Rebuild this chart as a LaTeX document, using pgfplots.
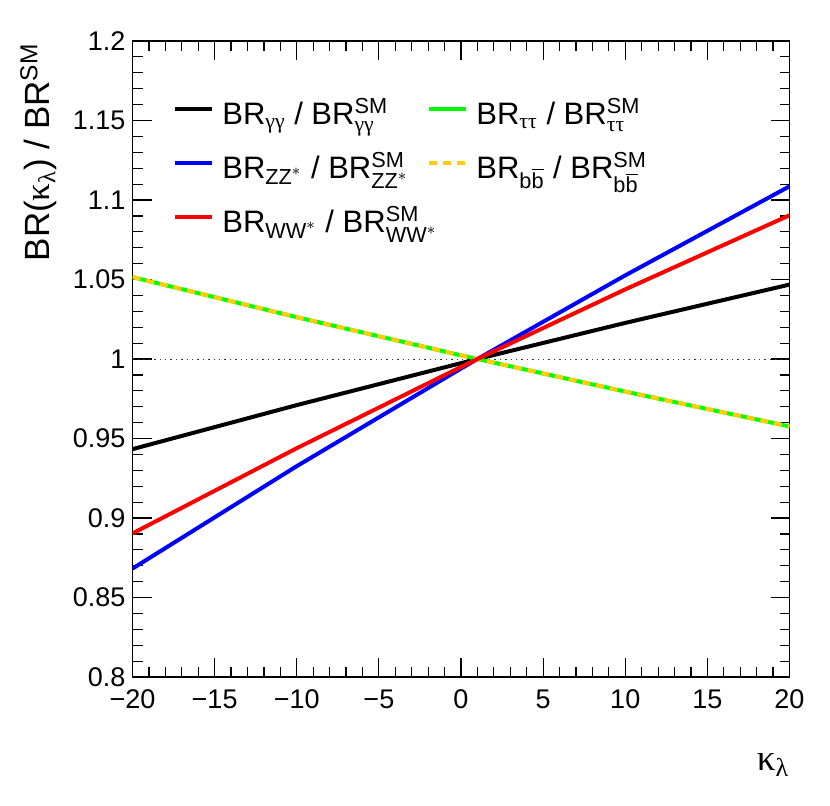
\documentclass[border=0pt]{standalone}
\usepackage{amsmath}
\usepackage{fontspec}
\setmainfont{Liberation Sans}
\newfontfamily\grk{Liberation Serif}
\usepackage{pgfplots}
\pgfplotsset{compat=1.18}

\definecolor{rgreen}{RGB}{0,255,0}
\definecolor{ryellow}{RGB}{255,204,0}

% legend text of the left column gets a fixed width so the right column sits where ROOT put it
\newcommand{\lcol}[1]{\makebox[102.5bp][l]{#1}}

\begin{document}
\begin{tikzpicture}
\begin{axis}[
    scale only axis,
    width=328.5bp, height=318bp,
    xmin=-20, xmax=20,
    ymin=0.8, ymax=1.2,
    xtick={-20,-15,-10,-5,0,5,10,15,20},
    xticklabels={−20,−15,−10,−5,0,5,10,15,20},
    ytick={0.8,0.85,0.9,0.95,1,1.05,1.1,1.15,1.2},
    yticklabels={0.8,0.85,0.9,0.95,1,1.05,1.1,1.15,1.2},
    minor x tick num=4, minor y tick num=4,
    tick align=inside,
    major tick length=9.5bp, minor tick length=5bp,
    axis line style={line width=0.75bp},
    every tick/.style={black, line width=0.6bp},
    tick label style={font=\fontsize{13.5bp}{16bp}\selectfont},
    xticklabel style={yshift=-3bp},
    xlabel={{\grk κ}$_{\text{\grk λ}}$},
    xlabel style={at={(axis description cs:1,0)}, anchor=base east,
        yshift=-46.5bp, inner sep=0pt, font=\fontsize{18.5bp}{22bp}\selectfont},
    ylabel={BR({\grk κ}$_{\text{\grk λ}}$) / BR$^{\text{SM}}$},
    ylabel style={at={(axis description cs:-0.1256,0.997)}, anchor=base east,
        inner sep=0pt, font=\fontsize{17.5bp}{21bp}\selectfont},
    legend columns=2,
    legend style={at={(axis description cs:0,1)}, anchor=north west,
        xshift=20.25bp, yshift=-31.5bp, draw=none, fill=none, inner sep=0pt,
        font=\fontsize{15.5bp}{18bp}\selectfont,
        nodes={inner sep=0pt, text height=10bp, text depth=5bp},
        row sep=12bp,
        /tikz/every odd column/.append style={column sep=4bp}},
    legend cell align=left,
    legend image code/.code={\draw[#1] (0bp,5bp) -- (18.5bp,5bp);},
]
\addplot[black!80, line width=0.5bp, dash pattern=on 0.7bp off 2bp, forget plot]
    coordinates {(-20,1) (20,1)};

\addplot[black, line width=2bp] coordinates {
    (-20,0.9433) (-10,0.9710) (0,0.9974) (1,1.0) (10,1.0227) (20,1.0468)};
\addlegendentry{\lcol{BR$_{\text{\grk γγ}}$ / BR$^{\text{SM}}_{\text{\grk γγ}}$}}

\addplot[rgreen, line width=2bp] coordinates {
    (-20,1.0515) (-10,1.0263) (0,1.0023) (1,1.0) (10,0.9795) (20,0.9576)};
\addlegendentry{BR$_{\text{\grk ττ}}$ / BR$^{\text{SM}}_{\text{\grk ττ}}$}

\addplot[blue, line width=2bp] coordinates {
    (-20,0.8682) (-10,0.9326) (0,0.9940) (1,1.0) (10,1.0526) (20,1.1086)};
\addlegendentry{\lcol{BR$_{\text{ZZ}^{\ast}}$ / BR$^{\text{SM}}_{\text{ZZ}^{\ast}}$}}

\addplot[ryellow, line width=2bp, dash pattern=on 4bp off 3bp] coordinates {
    (-20,1.0515) (-10,1.0263) (0,1.0023) (1,1.0) (10,0.9795) (20,0.9576)};
\addlegendentry{BR$_{\text{b}\overline{\text{b}}}$ / BR$^{\text{SM}}_{\text{b}\overline{\text{b}}}$}

\addplot[red, line width=2bp] coordinates {
    (-20,0.8903) (-10,0.9439) (0,0.9950) (1,1.0) (10,1.0438) (20,1.0904)};
\addlegendentry{\lcol{BR$_{\text{WW}^{\ast}}$ / BR$^{\text{SM}}_{\text{WW}^{\ast}}$}}
\end{axis}
\pgfresetboundingbox
\path (-66.25bp,-64.5bp) rectangle (348.75bp,338.5bp);
\end{tikzpicture}
\end{document}
